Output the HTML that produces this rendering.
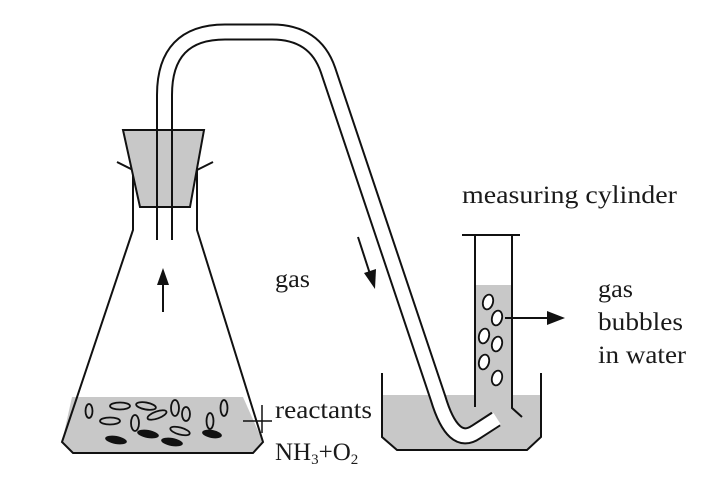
<!DOCTYPE html>
<html><head><meta charset="utf-8"><style>
html,body{margin:0;padding:0;background:#fff;}
svg{display:block;}
text{font-family:"Liberation Serif","Times New Roman",serif;font-size:25px;fill:#1a1a1a;}
</style></head><body>
<svg width="711" height="500" viewBox="0 0 711 500" xmlns="http://www.w3.org/2000/svg">
<polygon points="72,397 243,397 263,442 253,453 72,453 62,442" fill="#c8c8c8"/>
<polyline points="133,168 133,230 62,442 73,453 253,453 263,442 197,230 197,168" fill="none" stroke="#111" stroke-width="2"/>
<line x1="117" y1="162" x2="133" y2="170" stroke="#111" stroke-width="2"/>
<line x1="213" y1="162" x2="197" y2="170" stroke="#111" stroke-width="2"/>
<g fill="none" stroke="#111" stroke-width="1.8">
<ellipse cx="89" cy="411" rx="3.5" ry="7"/>
<ellipse cx="120" cy="406" rx="10" ry="3.5"/>
<ellipse cx="146" cy="406" rx="10" ry="3.5" transform="rotate(10 146 406)"/>
<ellipse cx="110" cy="421" rx="10" ry="3.5"/>
<ellipse cx="135" cy="423" rx="4" ry="8"/>
<ellipse cx="157" cy="415" rx="10" ry="3.5" transform="rotate(-20 157 415)"/>
<ellipse cx="175" cy="408" rx="4" ry="8"/>
<ellipse cx="186" cy="414" rx="4" ry="7"/>
<ellipse cx="180" cy="431" rx="10" ry="3.5" transform="rotate(15 180 431)"/>
<ellipse cx="210" cy="421" rx="3.5" ry="8"/>
<ellipse cx="224" cy="408" rx="3.5" ry="8"/>
</g>
<g fill="#111">
<ellipse cx="116" cy="440" rx="11" ry="4" transform="rotate(10 116 440)"/>
<ellipse cx="148" cy="434" rx="11" ry="4" transform="rotate(10 148 434)"/>
<ellipse cx="172" cy="442" rx="11" ry="4" transform="rotate(10 172 442)"/>
<ellipse cx="212" cy="434" rx="10" ry="4" transform="rotate(10 212 434)"/>
</g>
<polygon points="382,395 541,395 541,437 527,450 397,450 382,437" fill="#c8c8c8"/>
<rect x="475" y="285" width="37" height="122" fill="#c8c8c8"/>
<path d="M164.5,240 L164.5,95 Q164.5,32 225,32 L272,32 Q315,32 328,70 L438,398 Q453,448 476,432 L496,419" fill="none" stroke="#111" stroke-width="17"/>
<path d="M164.5,241 L164.5,95 Q164.5,32 225,32 L272,32 Q315,32 328,70 L438,398 Q453,448 476,432 L497,418.5" fill="none" stroke="#fff" stroke-width="13"/>
<polygon points="123,130 204,130 190,207 140,207" fill="#c8c8c8" stroke="#111" stroke-width="2"/>
<line x1="157" y1="130" x2="157" y2="207" stroke="#111" stroke-width="2"/>
<line x1="172" y1="130" x2="172" y2="207" stroke="#111" stroke-width="2"/>
<polyline points="382,373 382,437 397,450 527,450 541,437 541,373" fill="none" stroke="#111" stroke-width="2"/>
<line x1="462" y1="235" x2="520" y2="235" stroke="#111" stroke-width="2"/>
<line x1="475" y1="235" x2="475" y2="407" stroke="#111" stroke-width="2"/>
<polyline points="512,235 512,408 522,417" fill="none" stroke="#111" stroke-width="2"/>
<g fill="#fff" stroke="#111" stroke-width="1.8">
<ellipse cx="488" cy="302" rx="5" ry="7.5" transform="rotate(15 488 302)"/>
<ellipse cx="497" cy="318" rx="5" ry="7.5" transform="rotate(15 497 318)"/>
<ellipse cx="484" cy="336" rx="5" ry="7.5" transform="rotate(15 484 336)"/>
<ellipse cx="497" cy="344" rx="5" ry="7.5" transform="rotate(15 497 344)"/>
<ellipse cx="484" cy="362" rx="5" ry="7.5" transform="rotate(15 484 362)"/>
<ellipse cx="497" cy="378" rx="5" ry="7.5" transform="rotate(15 497 378)"/>
</g>
<line x1="505" y1="318" x2="550" y2="318" stroke="#111" stroke-width="2"/>
<polygon points="565,318 547,311 547,325" fill="#111"/>
<line x1="163" y1="312" x2="163" y2="282" stroke="#111" stroke-width="2"/>
<polygon points="163,268 157,285 169,285" fill="#111"/>
<line x1="358" y1="237" x2="370" y2="274" stroke="#111" stroke-width="2"/>
<polygon points="375,289 364,273 376,269" fill="#111"/>
<line x1="243" y1="421" x2="272" y2="421" stroke="#111" stroke-width="1.5"/>
<line x1="262" y1="405" x2="262" y2="433" stroke="#111" stroke-width="1.5"/>
<g font-family="Liberation Serif, serif">
<text x="462" y="203" textLength="215" lengthAdjust="spacingAndGlyphs">measuring cylinder</text>
<text x="275" y="287" textLength="35" lengthAdjust="spacingAndGlyphs">gas</text>
<text x="598" y="297" textLength="35" lengthAdjust="spacingAndGlyphs">gas</text>
<text x="598" y="330" textLength="85" lengthAdjust="spacingAndGlyphs">bubbles</text>
<text x="598" y="363" textLength="88" lengthAdjust="spacingAndGlyphs">in water</text>
<text x="275" y="418" textLength="97" lengthAdjust="spacingAndGlyphs">reactants</text>
<text x="275" y="460">NH<tspan font-size="15" dy="4">3</tspan><tspan dy="-4">+O</tspan><tspan font-size="15" dy="4">2</tspan></text>
</g>
</svg>
</body></html>
